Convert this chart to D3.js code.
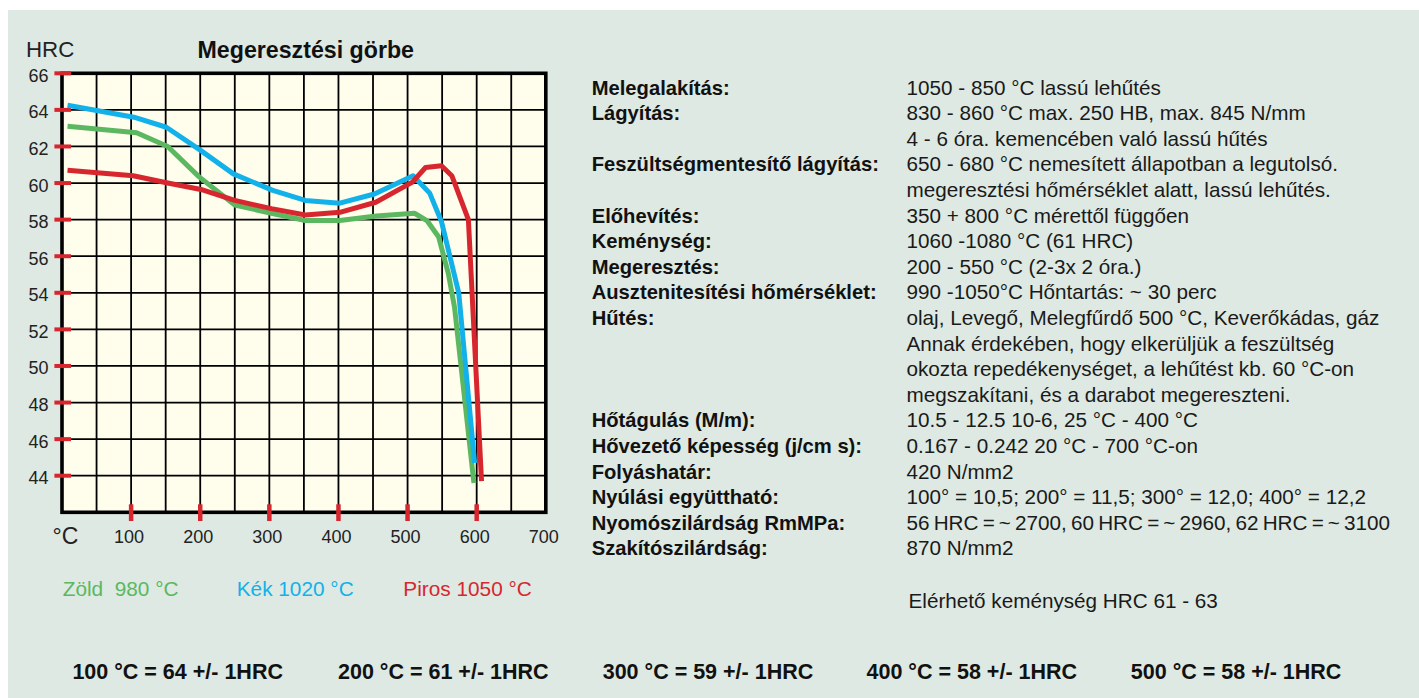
<!DOCTYPE html>
<html>
<head>
<meta charset="utf-8">
<script src="https://cdn.jsdelivr.net/npm/d3@7"></script>
<style>
  html, body { margin: 0; padding: 0; background: #ffffff; }
  svg { display: block; }
  text { font-family: "Liberation Sans", Arial, Helvetica, sans-serif; }
</style>
</head>
<body>
<svg id="chart" width="1419" height="698"></svg>
<script>
// Tempering curves: hardness (HRC) against tempering temperature (°C)
const xTicks = [100, 200, 300, 400, 500, 600, 700];
const yTicks = [44, 46, 48, 50, 52, 54, 56, 58, 60, 62, 64, 66];

// [temperature °C, hardness HRC]
const green980 = [[8, 63.1], [108, 62.75], [153, 62.0], [198, 60.35], [250, 58.8], [303, 58.35],
  [352, 57.95], [402, 57.95], [455, 58.2], [510, 58.35], [528, 57.95], [545, 57.05],
  [559, 55.05], [568, 53.2], [596, 43.6]];
const blue1020 = [[8, 64.25], [104, 63.6], [151, 63.05], [200, 61.8], [248, 60.5], [305, 59.6],
  [352, 59.05], [402, 58.9], [452, 59.4], [508, 60.4], [532, 59.45], [549, 57.9],
  [574, 54.0], [597, 44.7]];
const red1050 = [[8, 60.7], [103, 60.4], [153, 60.0], [201, 59.65], [250, 59.05], [303, 58.6],
  [352, 58.25], [402, 58.4], [454, 58.95], [507, 60.05], [526, 60.85], [549, 60.95],
  [564, 60.4], [588, 58.0], [607, 43.7]];

const seriesNames = ["Zöld  980 °C", "Kék 1020 °C", "Piros 1050 °C"];
const seriesColors = ["#5bb860", "#12b1ea", "#d8262f"];

const propLabels = ["Melegalakítás:", "Lágyítás:", "", "Feszültségmentesítő lágyítás:", "",
  "Előhevítés:", "Keménység:", "Megeresztés:", "Ausztenitesítési hőmérséklet:", "Hűtés:",
  "", "", "", "Hőtágulás (M/m):", "Hővezető képesség (j/cm s):", "Folyáshatár:",
  "Nyúlási együttható:", "Nyomószilárdság RmMPa:", "Szakítószilárdság:", "", ""];
const propValues = ["1050 - 850 °C lassú lehűtés",
  "830 - 860 °C max. 250 HB, max. 845 N/mm",
  "4 - 6 óra. kemencében való lassú hűtés",
  "650 - 680 °C nemesített állapotban a legutolsó.",
  "megeresztési hőmérséklet alatt, lassú lehűtés.",
  "350 + 800 °C mérettől függően",
  "1060 -1080 °C (61 HRC)",
  "200 - 550 °C (2-3x 2 óra.)",
  "990 -1050°C Hőntartás: ~ 30 perc",
  "olaj, Levegő, Melegfűrdő 500 °C, Keverőkádas, gáz",
  "Annak érdekében, hogy elkerüljük a feszültség",
  "okozta repedékenységet, a lehűtést kb. 60 °C-on",
  "megszakítani, és a darabot megereszteni.",
  "10.5 - 12.5 10-6, 25 °C - 400 °C",
  "0.167 - 0.242 20 °C - 700 °C-on",
  "420 N/mm2",
  "100° = 10,5; 200° = 11,5; 300° = 12,0; 400° = 12,2",
  "56 HRC = ~ 2700, 60 HRC = ~ 2960, 62 HRC = ~ 3100",
  "870 N/mm2",
  "",
  "Elérhető keménység HRC 61 - 63"];

const bottomNotes = ["100 °C = 64 +/- 1HRC", "200 °C = 61 +/- 1HRC", "300 °C = 59 +/- 1HRC",
  "400 °C = 58 +/- 1HRC", "500 °C = 58 +/- 1HRC"];

const svg = d3.select("#chart");

// panel background
svg.append("rect").attr("x", 8).attr("y", 10).attr("width", 1411).attr("height", 688)
  .attr("fill", "#dde9e2");

const plot = { left: 62, right: 545.8, top: 73.3, bottom: 512.3 };
const x = d3.scaleLinear().domain([0, 700]).range([plot.left, plot.right]);
const y = d3.scaleLinear().domain([42, 66]).range([plot.bottom, plot.top]);

// plot area
svg.append("rect")
  .attr("x", plot.left).attr("y", plot.top)
  .attr("width", plot.right - plot.left).attr("height", plot.bottom - plot.top)
  .attr("fill", "#fffdec");

// grid: every 50 °C and every 2 HRC
const grid = svg.append("g").attr("stroke", "#000").attr("stroke-width", 1.8);
grid.selectAll("line.v").data(d3.range(50, 700, 50)).join("line")
  .attr("class", "v")
  .attr("x1", d => x(d)).attr("x2", d => x(d))
  .attr("y1", plot.top).attr("y2", plot.bottom);
grid.selectAll("line.h").data(d3.range(44, 66, 2)).join("line")
  .attr("class", "h")
  .attr("x1", plot.left).attr("x2", plot.right)
  .attr("y1", d => y(d)).attr("y2", d => y(d));

// frame
svg.append("rect")
  .attr("x", plot.left).attr("y", plot.top)
  .attr("width", plot.right - plot.left).attr("height", plot.bottom - plot.top)
  .attr("fill", "none").attr("stroke", "#000").attr("stroke-width", 3.6);

// red tick marks
svg.append("g").selectAll("line").data(yTicks).join("line")
  .attr("x1", plot.left - 7.6).attr("x2", plot.left + 9)
  .attr("y1", d => y(d)).attr("y2", d => y(d))
  .attr("stroke", "#d8262f").attr("stroke-width", 4);
svg.append("g").selectAll("line").data(xTicks.filter(d => d < 700)).join("line")
  .attr("x1", d => x(d)).attr("x2", d => x(d))
  .attr("y1", plot.bottom - 8).attr("y2", plot.bottom + 8.7)
  .attr("stroke", "#d8262f").attr("stroke-width", 4.5);

// axis labels
const yAxis = svg.append("g").attr("transform", `translate(${plot.left - 13.5},0)`)
  .call(d3.axisLeft(y).tickValues(yTicks).tickSize(0).tickPadding(0));
yAxis.select(".domain").remove();
yAxis.selectAll("text").attr("font-size", 18).attr("fill", "#222")
  .attr("font-family", "'Liberation Sans', Arial, sans-serif").attr("dy", "0.36em")
  .attr("y", 1.5);

const xAxis = svg.append("g").attr("transform", `translate(-2.5,${plot.bottom})`)
  .call(d3.axisBottom(x).tickValues(xTicks).tickSize(0).tickPadding(0));
xAxis.select(".domain").remove();
xAxis.selectAll("text").attr("font-size", 18).attr("fill", "#222")
  .attr("font-family", "'Liberation Sans', Arial, sans-serif")
  .attr("y", 30.8).attr("dy", 0);

svg.append("text").attr("x", 52.5).attr("y", 543.5).attr("font-size", 23).attr("fill", "#222").text("°C");
svg.append("text").attr("x", 26).attr("y", 56.8).attr("font-size", 22.3).attr("fill", "#222").text("HRC");
svg.append("text").attr("x", 197.5).attr("y", 57.5).attr("font-size", 23.2).attr("font-weight", "bold")
  .attr("fill", "#111").text("Megeresztési görbe");

// curves
const line = d3.line().x(d => x(d[0])).y(d => y(d[1]));
const curves = [green980, blue1020, red1050];
svg.append("g").selectAll("path").data(curves).join("path")
  .attr("d", line)
  .attr("fill", "none")
  .attr("stroke", (d, i) => seriesColors[i])
  .attr("stroke-width", 5)
  .attr("stroke-linejoin", "round");

// legend
const legendX = [62.7, 236.7, 403.3];
svg.append("g").selectAll("text").data(seriesNames).join("text")
  .attr("x", (d, i) => legendX[i]).attr("y", 595.6)
  .attr("font-size", 20.8)
  .attr("fill", (d, i) => seriesColors[i])
  .style("white-space", "pre")
  .text(d => d);

// property table
const rowY = i => 94.6 + 25.6 * i;
svg.append("g").selectAll("text").data(propLabels).join("text")
  .attr("x", 591.7).attr("y", (d, i) => rowY(i))
  .attr("font-size", 20.2).attr("font-weight", "bold").attr("fill", "#111")
  .text(d => d);
svg.append("g").selectAll("text").data(propValues).join("text")
  .attr("x", (d, i) => i === propValues.length - 1 ? 908.5 : 906.5)
  .attr("y", (d, i) => rowY(i) + (i === propValues.length - 1 ? 1.5 : 0))
  .attr("font-size", 20.7).attr("fill", "#1a1a1a")
  .attr("word-spacing", d => d.startsWith("56 HRC") ? -1.6 : 0)
  .text(d => d);

// hardness summary row
const noteX = [72.4, 338, 602.7, 866.5, 1130.8];
svg.append("g").selectAll("text").data(bottomNotes).join("text")
  .attr("x", (d, i) => noteX[i]).attr("y", 679.4)
  .attr("font-size", 21.5).attr("font-weight", "bold").attr("fill", "#111")
  .text(d => d);
</script>
</body>
</html>
